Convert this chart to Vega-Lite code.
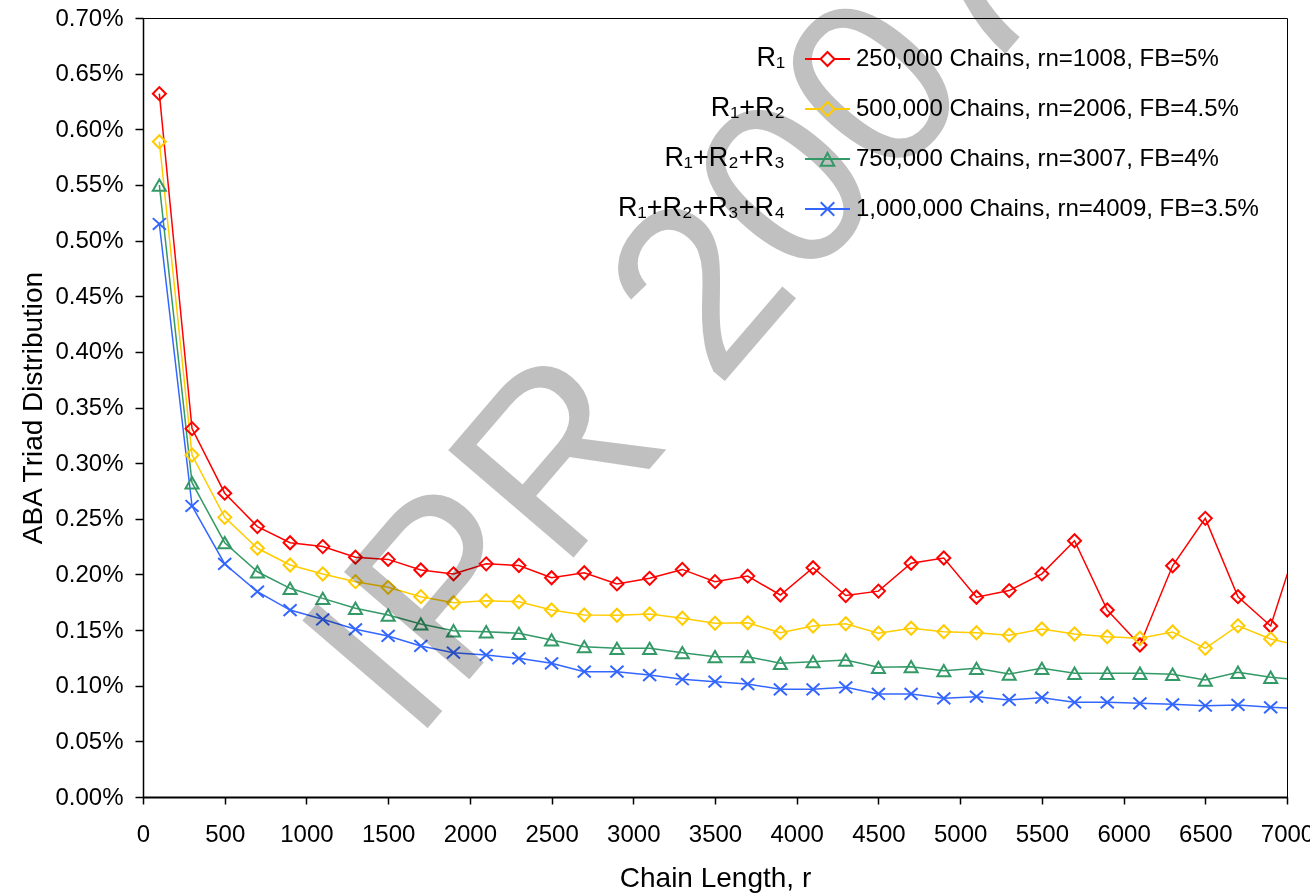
{
  "$schema": "https://vega.github.io/schema/vega-lite/v6.json",
  "width": 1144,
  "height": 779,
  "autosize": "none",
  "padding": {"left": 143, "top": 18, "right": 23, "bottom": 96},
  "background": "white",
  "config": {
    "font": "Liberation Sans",
    "view": {"stroke": "black", "strokeWidth": 1},
    "axis": {"grid": false, "domainColor": "black", "tickColor": "black", "labelColor": "black", "titleColor": "black", "titleFontWeight": "normal", "labelFont": "Liberation Sans", "titleFont": "Liberation Sans"},
    "legend": {"labelFont": "Liberation Sans", "labelColor": "black"}
  },
  "data": {"values": [
    {"r":100,"s":"a","R":"R₁","v":0.632},{"r":300,"s":"a","R":"R₁","v":0.331},{"r":500,"s":"a","R":"R₁","v":0.273},{"r":700,"s":"a","R":"R₁","v":0.243},{"r":900,"s":"a","R":"R₁","v":0.2285},{"r":1100,"s":"a","R":"R₁","v":0.225},{"r":1300,"s":"a","R":"R₁","v":0.2155},{"r":1500,"s":"a","R":"R₁","v":0.2135},{"r":1700,"s":"a","R":"R₁","v":0.204},{"r":1900,"s":"a","R":"R₁","v":0.2005},{"r":2100,"s":"a","R":"R₁","v":0.2095},{"r":2300,"s":"a","R":"R₁","v":0.208},{"r":2500,"s":"a","R":"R₁","v":0.197},{"r":2700,"s":"a","R":"R₁","v":0.2015},{"r":2900,"s":"a","R":"R₁","v":0.1915},{"r":3100,"s":"a","R":"R₁","v":0.1965},{"r":3300,"s":"a","R":"R₁","v":0.2045},{"r":3500,"s":"a","R":"R₁","v":0.1935},{"r":3700,"s":"a","R":"R₁","v":0.1985},{"r":3900,"s":"a","R":"R₁","v":0.1815},{"r":4100,"s":"a","R":"R₁","v":0.206},{"r":4300,"s":"a","R":"R₁","v":0.181},{"r":4500,"s":"a","R":"R₁","v":0.185},{"r":4700,"s":"a","R":"R₁","v":0.21},{"r":4900,"s":"a","R":"R₁","v":0.2148},{"r":5100,"s":"a","R":"R₁","v":0.1795},{"r":5300,"s":"a","R":"R₁","v":0.1855},{"r":5500,"s":"a","R":"R₁","v":0.2005},{"r":5700,"s":"a","R":"R₁","v":0.2303},{"r":5900,"s":"a","R":"R₁","v":0.168},{"r":6100,"s":"a","R":"R₁","v":0.1366},{"r":6300,"s":"a","R":"R₁","v":0.2078},{"r":6500,"s":"a","R":"R₁","v":0.2504},{"r":6700,"s":"a","R":"R₁","v":0.18},{"r":6900,"s":"a","R":"R₁","v":0.1537},{"r":7100,"s":"a","R":"R₁","v":0.245},
    {"r":100,"s":"b","R":"R₁+R₂","v":0.5888},{"r":300,"s":"b","R":"R₁+R₂","v":0.3073},{"r":500,"s":"b","R":"R₁+R₂","v":0.2513},{"r":700,"s":"b","R":"R₁+R₂","v":0.2235},{"r":900,"s":"b","R":"R₁+R₂","v":0.2085},{"r":1100,"s":"b","R":"R₁+R₂","v":0.2004},{"r":1300,"s":"b","R":"R₁+R₂","v":0.1935},{"r":1500,"s":"b","R":"R₁+R₂","v":0.1884},{"r":1700,"s":"b","R":"R₁+R₂","v":0.18},{"r":1900,"s":"b","R":"R₁+R₂","v":0.1746},{"r":2100,"s":"b","R":"R₁+R₂","v":0.1764},{"r":2300,"s":"b","R":"R₁+R₂","v":0.1755},{"r":2500,"s":"b","R":"R₁+R₂","v":0.168},{"r":2700,"s":"b","R":"R₁+R₂","v":0.1635},{"r":2900,"s":"b","R":"R₁+R₂","v":0.1633},{"r":3100,"s":"b","R":"R₁+R₂","v":0.1644},{"r":3300,"s":"b","R":"R₁+R₂","v":0.1606},{"r":3500,"s":"b","R":"R₁+R₂","v":0.1561},{"r":3700,"s":"b","R":"R₁+R₂","v":0.1566},{"r":3900,"s":"b","R":"R₁+R₂","v":0.1476},{"r":4100,"s":"b","R":"R₁+R₂","v":0.1537},{"r":4300,"s":"b","R":"R₁+R₂","v":0.1557},{"r":4500,"s":"b","R":"R₁+R₂","v":0.1471},{"r":4700,"s":"b","R":"R₁+R₂","v":0.1516},{"r":4900,"s":"b","R":"R₁+R₂","v":0.1485},{"r":5100,"s":"b","R":"R₁+R₂","v":0.1476},{"r":5300,"s":"b","R":"R₁+R₂","v":0.1453},{"r":5500,"s":"b","R":"R₁+R₂","v":0.151},{"r":5700,"s":"b","R":"R₁+R₂","v":0.1465},{"r":5900,"s":"b","R":"R₁+R₂","v":0.144},{"r":6100,"s":"b","R":"R₁+R₂","v":0.1426},{"r":6300,"s":"b","R":"R₁+R₂","v":0.1483},{"r":6500,"s":"b","R":"R₁+R₂","v":0.1336},{"r":6700,"s":"b","R":"R₁+R₂","v":0.1539},{"r":6900,"s":"b","R":"R₁+R₂","v":0.142},{"r":7100,"s":"b","R":"R₁+R₂","v":0.1352},
    {"r":100,"s":"c","R":"R₁+R₂+R₃","v":0.5499},{"r":300,"s":"c","R":"R₁+R₂+R₃","v":0.2824},{"r":500,"s":"c","R":"R₁+R₂+R₃","v":0.2285},{"r":700,"s":"c","R":"R₁+R₂+R₃","v":0.2024},{"r":900,"s":"c","R":"R₁+R₂+R₃","v":0.1875},{"r":1100,"s":"c","R":"R₁+R₂+R₃","v":0.1785},{"r":1300,"s":"c","R":"R₁+R₂+R₃","v":0.1696},{"r":1500,"s":"c","R":"R₁+R₂+R₃","v":0.1635},{"r":1700,"s":"c","R":"R₁+R₂+R₃","v":0.1555},{"r":1900,"s":"c","R":"R₁+R₂+R₃","v":0.1494},{"r":2100,"s":"c","R":"R₁+R₂+R₃","v":0.1485},{"r":2300,"s":"c","R":"R₁+R₂+R₃","v":0.1471},{"r":2500,"s":"c","R":"R₁+R₂+R₃","v":0.1411},{"r":2700,"s":"c","R":"R₁+R₂+R₃","v":0.1351},{"r":2900,"s":"c","R":"R₁+R₂+R₃","v":0.1336},{"r":3100,"s":"c","R":"R₁+R₂+R₃","v":0.1336},{"r":3300,"s":"c","R":"R₁+R₂+R₃","v":0.1297},{"r":3500,"s":"c","R":"R₁+R₂+R₃","v":0.1261},{"r":3700,"s":"c","R":"R₁+R₂+R₃","v":0.1261},{"r":3900,"s":"c","R":"R₁+R₂+R₃","v":0.1201},{"r":4100,"s":"c","R":"R₁+R₂+R₃","v":0.1216},{"r":4300,"s":"c","R":"R₁+R₂+R₃","v":0.1231},{"r":4500,"s":"c","R":"R₁+R₂+R₃","v":0.1165},{"r":4700,"s":"c","R":"R₁+R₂+R₃","v":0.1171},{"r":4900,"s":"c","R":"R₁+R₂+R₃","v":0.1135},{"r":5100,"s":"c","R":"R₁+R₂+R₃","v":0.1156},{"r":5300,"s":"c","R":"R₁+R₂+R₃","v":0.1105},{"r":5500,"s":"c","R":"R₁+R₂+R₃","v":0.1156},{"r":5700,"s":"c","R":"R₁+R₂+R₃","v":0.1112},{"r":5900,"s":"c","R":"R₁+R₂+R₃","v":0.1112},{"r":6100,"s":"c","R":"R₁+R₂+R₃","v":0.1112},{"r":6300,"s":"c","R":"R₁+R₂+R₃","v":0.1103},{"r":6500,"s":"c","R":"R₁+R₂+R₃","v":0.1051},{"r":6700,"s":"c","R":"R₁+R₂+R₃","v":0.1121},{"r":6900,"s":"c","R":"R₁+R₂+R₃","v":0.1076},{"r":7100,"s":"c","R":"R₁+R₂+R₃","v":0.105},
    {"r":100,"s":"d","R":"R₁+R₂+R₃+R₄","v":0.5149},{"r":300,"s":"d","R":"R₁+R₂+R₃+R₄","v":0.2615},{"r":500,"s":"d","R":"R₁+R₂+R₃+R₄","v":0.2094},{"r":700,"s":"d","R":"R₁+R₂+R₃+R₄","v":0.1845},{"r":900,"s":"d","R":"R₁+R₂+R₃+R₄","v":0.168},{"r":1100,"s":"d","R":"R₁+R₂+R₃+R₄","v":0.1597},{"r":1300,"s":"d","R":"R₁+R₂+R₃+R₄","v":0.1507},{"r":1500,"s":"d","R":"R₁+R₂+R₃+R₄","v":0.1447},{"r":1700,"s":"d","R":"R₁+R₂+R₃+R₄","v":0.1357},{"r":1900,"s":"d","R":"R₁+R₂+R₃+R₄","v":0.1297},{"r":2100,"s":"d","R":"R₁+R₂+R₃+R₄","v":0.1276},{"r":2300,"s":"d","R":"R₁+R₂+R₃+R₄","v":0.1246},{"r":2500,"s":"d","R":"R₁+R₂+R₃+R₄","v":0.1201},{"r":2700,"s":"d","R":"R₁+R₂+R₃+R₄","v":0.1126},{"r":2900,"s":"d","R":"R₁+R₂+R₃+R₄","v":0.1126},{"r":3100,"s":"d","R":"R₁+R₂+R₃+R₄","v":0.1096},{"r":3300,"s":"d","R":"R₁+R₂+R₃+R₄","v":0.1058},{"r":3500,"s":"d","R":"R₁+R₂+R₃+R₄","v":0.1036},{"r":3700,"s":"d","R":"R₁+R₂+R₃+R₄","v":0.1015},{"r":3900,"s":"d","R":"R₁+R₂+R₃+R₄","v":0.0968},{"r":4100,"s":"d","R":"R₁+R₂+R₃+R₄","v":0.0968},{"r":4300,"s":"d","R":"R₁+R₂+R₃+R₄","v":0.0986},{"r":4500,"s":"d","R":"R₁+R₂+R₃+R₄","v":0.0926},{"r":4700,"s":"d","R":"R₁+R₂+R₃+R₄","v":0.0926},{"r":4900,"s":"d","R":"R₁+R₂+R₃+R₄","v":0.0887},{"r":5100,"s":"d","R":"R₁+R₂+R₃+R₄","v":0.0901},{"r":5300,"s":"d","R":"R₁+R₂+R₃+R₄","v":0.0872},{"r":5500,"s":"d","R":"R₁+R₂+R₃+R₄","v":0.0892},{"r":5700,"s":"d","R":"R₁+R₂+R₃+R₄","v":0.0851},{"r":5900,"s":"d","R":"R₁+R₂+R₃+R₄","v":0.0851},{"r":6100,"s":"d","R":"R₁+R₂+R₃+R₄","v":0.0842},{"r":6300,"s":"d","R":"R₁+R₂+R₃+R₄","v":0.0833},{"r":6500,"s":"d","R":"R₁+R₂+R₃+R₄","v":0.082},{"r":6700,"s":"d","R":"R₁+R₂+R₃+R₄","v":0.0827},{"r":6900,"s":"d","R":"R₁+R₂+R₃+R₄","v":0.0806},{"r":7100,"s":"d","R":"R₁+R₂+R₃+R₄","v":0.0794}
  ]},
  "layer": [
    {
      "encoding": {
        "x": {"field": "r", "type": "quantitative", "scale": {"domain": [0, 7000], "nice": false, "zero": false},
          "axis": {"title": "Chain Length, r", "values": [0,500,1000,1500,2000,2500,3000,3500,4000,4500,5000,5500,6000,6500,7000], "format": "d", "labelFontSize": 24, "titleFontSize": 28, "tickSize": 7, "labelPadding": 18, "titlePadding": 18, "domainWidth": 2, "tickWidth": 1.5, "labelFlush": false, "labelOverlap": false,
            "labelExpr": "datum.value === 7000 ? '7000\u00a0\u00a0\u00a0' : datum.label"}},
        "y": {"field": "v", "type": "quantitative", "scale": {"domain": [0, 0.7], "nice": false},
          "axis": {"title": "ABA Triad Distribution", "values": [0,0.05,0.1,0.15,0.2,0.25,0.3,0.35,0.4,0.45,0.5,0.55,0.6,0.65,0.7], "labelExpr": "format(datum.value, '.2f') + '%'", "labelFontSize": 24, "titleFontSize": 28, "tickSize": 8, "labelPadding": 12, "titlePadding": 7, "domainWidth": 1.5, "tickWidth": 1.5, "labelFlush": false, "labelOverlap": false}}
      },
      "resolve": {"scale": {"color": "independent", "shape": "independent"}},
      "layer": [
        {
          "mark": {"type": "line", "strokeWidth": 1.5, "clip": true},
          "encoding": {
            "color": {"field": "s", "type": "nominal", "scale": {"domain": ["a","b","c","d"], "range": ["#FF0000","#FFCC00","#339966","#3366FF"]}, "legend": null},
            "opacity": {"field": "R", "type": "nominal", "scale": {"domain": ["R₁","R₁+R₂","R₁+R₂+R₃","R₁+R₂+R₃+R₄"], "range": [1,1,1,1]},
              "legend": {"orient": "none", "legendX": 597, "legendY": 17.5, "title": null, "padding": 0, "rowPadding": 14, "symbolSize": 2025, "symbolOpacity": 0, "symbolStrokeWidth": 0, "labelFontSize": 27, "labelOffset": 0, "labelAlign": "right", "labelLimit": 600}}
          }
        },
        {
          "mark": {"type": "point", "filled": false, "strokeWidth": 2, "size": 170, "opacity": 1, "clip": true},
          "encoding": {
            "color": {"field": "s", "type": "nominal", "scale": {"domain": ["a","b","c","d"], "range": ["#FF0000","#FFCC00","#339966","#3366FF"]}, "legend": null},
            "shape": {"field": "s", "type": "nominal", "legend": null, "scale": {"domain": ["a","b","c","d"], "range": ["diamond","diamond","triangle-up","M-1,-0.9L1,0.9M-1,0.9L1,-0.9"]}}
          }
        },
        {
          "mark": {"type": "point", "filled": false, "strokeWidth": 2, "opacity": 0, "clip": true},
          "encoding": {
            "color": {"field": "s", "type": "nominal", "scale": {"domain": ["a","b","c","d"], "range": ["#FF0000","#FFCC00","#339966","#3366FF"]},
              "legend": {"orient": "none", "legendX": 661, "legendY": 17.5, "title": null, "padding": 0, "rowPadding": 14, "symbolSize": 2025, "symbolStrokeWidth": 2, "symbolOpacity": 1, "symbolFillColor": "transparent", "labelFontSize": 24, "labelOffset": 5, "labelLimit": 600,
                "labelExpr": "{'a':'250,000 Chains, rn=1008, FB=5%','b':'500,000 Chains, rn=2006, FB=4.5%','c':'750,000 Chains, rn=3007, FB=4%','d':'1,000,000 Chains, rn=4009, FB=3.5%'}[datum.value]"}},
            "shape": {"field": "s", "type": "nominal", "scale": {"domain": ["a","b","c","d"], "range": ["M-1,0L-0.31,0M0.31,0L1,0M0,-0.31L0.31,0L0,0.31L-0.31,0Z","M-1,0L-0.31,0M0.31,0L1,0M0,-0.31L0.31,0L0,0.31L-0.31,0Z","M-1,0L1,0M0,-0.27L0.3,0.3L-0.3,0.3Z","M-1,0L1,0M-0.3,-0.3L0.3,0.3M-0.3,0.3L0.3,-0.3"]}}
          }
        }
      ]
    },
    {
      "data": {"values": [{"w": "IPR 2007"}]},
      "mark": {"type": "text", "font": "Liberation Sans", "fontSize": 240, "angle": 310.6, "align": "center", "baseline": "middle", "color": "#C0C0C0", "opacity": 1, "blend": "multiply"},
      "encoding": {
        "x": {"datum": 3311, "type": "quantitative", "scale": {"domain": [0, 7000], "nice": false, "zero": false}, "title": "Chain Length, r"},
        "y": {"datum": 0.4304, "type": "quantitative", "scale": {"domain": [0, 0.7], "nice": false}, "title": "ABA Triad Distribution"},
        "text": {"field": "w", "type": "nominal"}
      }
    }
  ]
}
